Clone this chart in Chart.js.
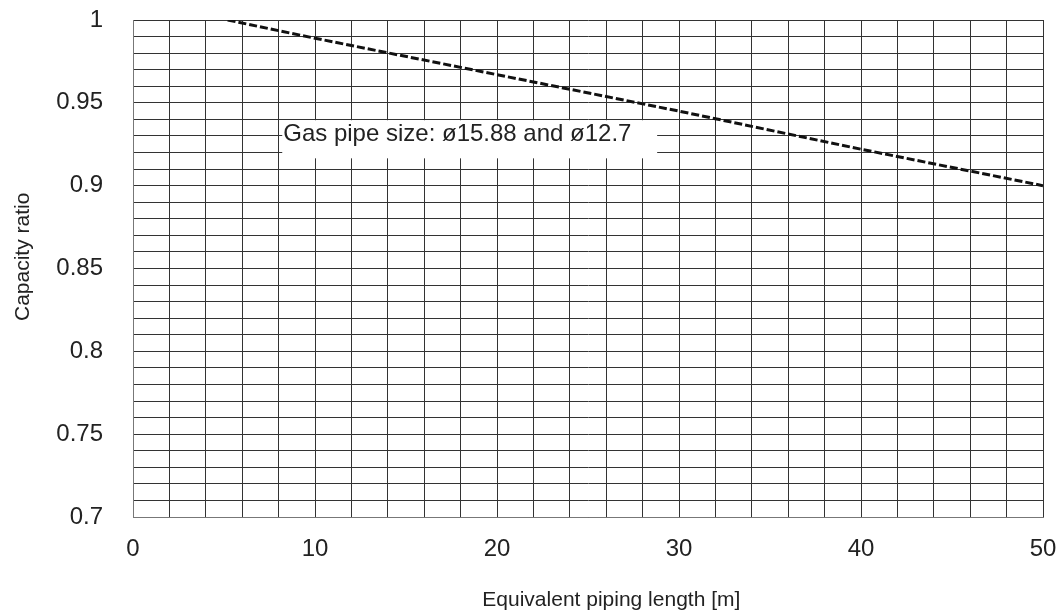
<!DOCTYPE html>
<html>
<head>
<meta charset="utf-8">
<script src="https://cdn.jsdelivr.net/npm/chart.js@4/dist/chart.umd.min.js"></script>
<style>
    html, body { margin: 0; padding: 0; background: #fff; }
    #wrap { width: 1061px; height: 613px; }
</style>
</head>
<body>
<div id="wrap"><canvas id="capacityChart" width="1061" height="613"></canvas></div>
<script>
// Dados
const pipeLength = [5.2, 10, 20, 30, 40, 50];
const capacityRatio = [1.0, 0.989, 0.967, 0.945, 0.922, 0.9];
const noteText = 'Gas pipe size: ø15.88 and ø12.7';

const FONT = "'Liberation Sans', Arial, sans-serif";
const INK = '#222';

// caixa branca com a legenda dentro da área do gráfico
const notePlugin = {
    id: 'note',
    beforeDatasetsDraw(chart, args, opts) {
        const { ctx, scales: { x, y } } = chart;
        const x0 = x.getPixelForValue(opts.xFrom);
        const x1 = x.getPixelForValue(opts.xTo);
        const y0 = y.getPixelForValue(opts.yTop);
        const y1 = y.getPixelForValue(opts.yBottom);
        ctx.save();
        ctx.fillStyle = '#fff';
        ctx.fillRect(x0, y0, x1 - x0, y1 - y0);
        ctx.fillStyle = INK;
        ctx.font = '24px ' + FONT;
        ctx.textBaseline = 'alphabetic';
        ctx.textAlign = 'left';
        ctx.fillText(noteText, x0 + 1, y.getPixelForValue(opts.yText));
        ctx.restore();
    }
};

const ctx = document.getElementById('capacityChart').getContext('2d');
new Chart(ctx, {
    type: 'line',
    data: {
        datasets: [{
            label: noteText,
            data: pipeLength.map((v, i) => ({ x: v, y: capacityRatio[i] })),
            borderColor: '#111',
            borderWidth: 3,
            borderDash: [8, 3],
            pointRadius: 0,
            tension: 0,
            fill: false
        }]
    },
    options: {
        responsive: false,
        animation: false,
        layout: { padding: { top: 20, right: 18, left: 0, bottom: 0 } },
        plugins: {
            legend: { display: false },
            tooltip: { enabled: false },
            note: { xFrom: 8.2, xTo: 28.8, yTop: 0.9395, yBottom: 0.9165, yText: 0.9267 }
        },
        scales: {
            x: {
                type: 'linear',
                min: 0,
                max: 50,
                afterFit(scale) {
                    scale.height = 96;
                    scale.paddingLeft = 0;
                    scale.paddingRight = 0;
                },
                grid: { color: '#333', lineWidth: 1, drawTicks: false },
                border: { color: '#777', width: 1 },
                ticks: {
                    stepSize: 2,
                    autoSkip: false,
                    maxRotation: 0,
                    padding: 18,
                    color: INK,
                    font: { family: FONT, size: 24 },
                    callback: v => (v % 10 === 0 ? String(v) : '')
                },
                title: {
                    display: true,
                    text: '        Equivalent piping length [m]',
                    color: INK,
                    font: { family: FONT, size: 21 },
                    padding: { top: 0, bottom: 0 }
                }
            },
            y: {
                min: 0.7,
                max: 1,
                afterFit(scale) {
                    scale.width = 133;
                    scale.paddingTop = 0;
                    scale.paddingBottom = 0;
                },
                grid: { color: '#333', lineWidth: 1, drawTicks: false },
                border: { color: '#777', width: 1 },
                ticks: {
                    stepSize: 0.01,
                    autoSkip: false,
                    padding: 30,
                    color: INK,
                    font: { family: FONT, size: 24 },
                    callback: v => (Math.round(v * 100) % 5 === 0 ? String(Number(v.toFixed(2))) : '')
                },
                title: {
                    display: true,
                    text: '    Capacity ratio',
                    color: INK,
                    font: { family: FONT, size: 21 },
                    padding: { top: 11, bottom: 0 }
                }
            }
        }
    },
    plugins: [notePlugin]
});
</script>
</body>
</html>
